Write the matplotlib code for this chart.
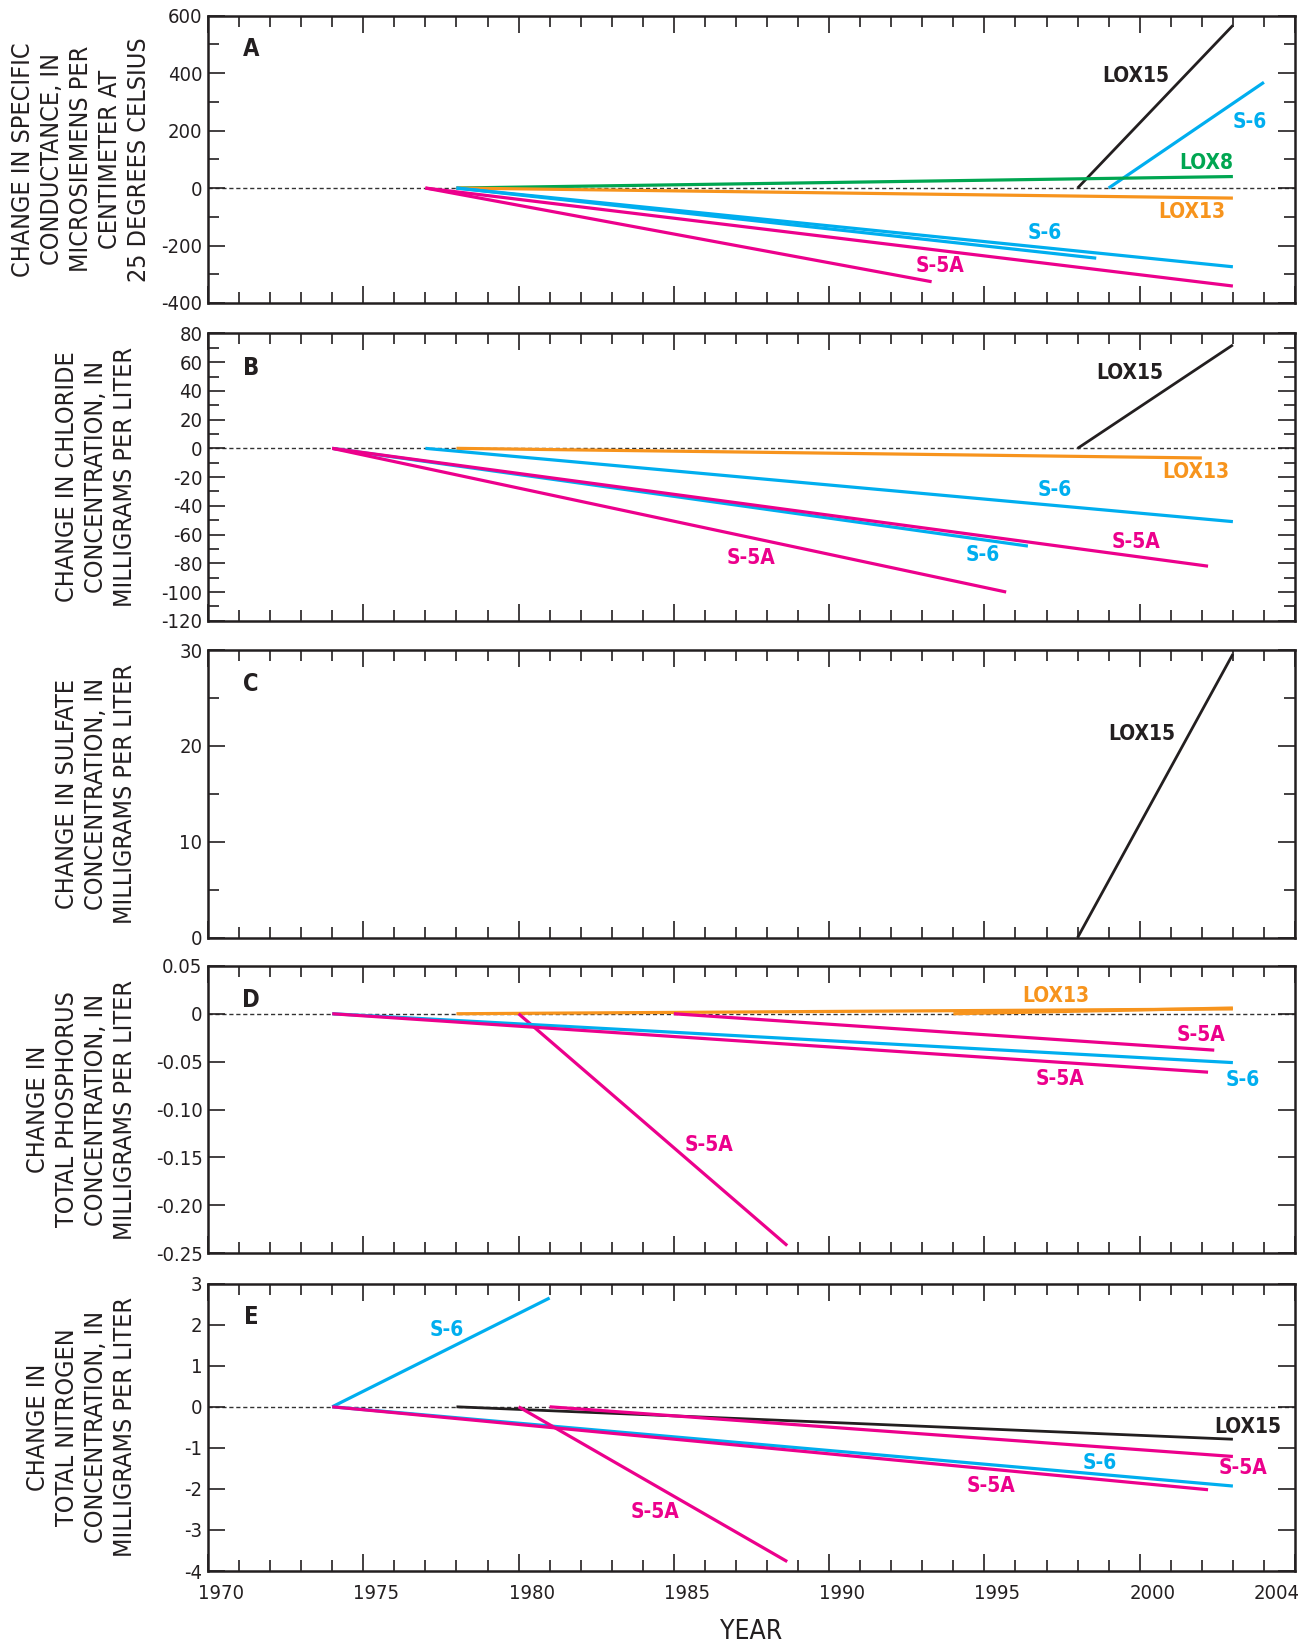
import matplotlib
matplotlib.use('Agg')
import matplotlib.pyplot as plt
from matplotlib.ticker import MultipleLocator, FixedLocator, FixedFormatter, FuncFormatter
from matplotlib.transforms import ScaledTranslation

plt.rcParams['font.family'] = ['DejaVu Sans']
plt.rcParams['font.stretch'] = 'condensed'

# colour of each well
well_colors = {'LOX15': '#231f20', 'S-6': '#00aeef', 'LOX8': '#00a651',
               'LOX13': '#f7941d', 'S-5A': '#ec008c'}

# each trend line goes from (start, 0) to (end, change)
# A - specific conductance
a_well = ['LOX15', 'S-6', 'LOX8', 'LOX13', 'S-6', 'S-6', 'S-5A', 'S-5A']
a_start = [1998.0, 1999.0, 1978.0, 1978.0, 1978.0, 1978.0, 1977.0, 1977.0]
a_end = [2003.0, 2004.0, 2003.0, 2003.0, 1998.6, 2003.0, 1993.3, 2003.0]
a_change = [566, 368, 40, -35, -244, -274, -326, -341]

# B - chloride
b_well = ['LOX15', 'LOX13', 'S-6', 'S-6', 'S-5A', 'S-5A']
b_start = [1998.0, 1978.0, 1977.0, 1974.0, 1974.0, 1974.0]
b_end = [2003.0, 2002.0, 2003.0, 1996.4, 2002.2, 1995.7]
b_change = [72, -6.7, -51, -68, -82, -100]

# C - sulfate
c_well = ['LOX15']
c_start = [1998.0]
c_end = [2003.0]
c_change = [29.6]

# D - total phosphorus
d_well = ['LOX13', 'LOX13', 'S-5A', 'S-5A', 'S-6', 'S-5A']
d_start = [1978.0, 1994.0, 1980.0, 1985.0, 1974.0, 1974.0]
d_end = [2003.0, 2003.0, 1988.65, 2002.4, 2003.0, 2002.2]
d_change = [0.005, 0.006, -0.242, -0.038, -0.051, -0.061]

# E - total nitrogen
e_well = ['S-6', 'LOX15', 'S-5A', 'S-6', 'S-5A', 'S-5A']
e_start = [1974.0, 1978.0, 1981.0, 1974.0, 1974.0, 1980.0]
e_end = [1981.0, 2003.0, 2003.0, 2003.0, 2002.2, 1988.65]
e_change = [2.65, -0.79, -1.21, -1.93, -2.02, -3.77]

year_ticks = [1970, 1975, 1980, 1985, 1990, 1995, 2000, 2005]
year_labels = ['1970', '1975', '1980', '1985', '1990', '1995', '2000', '']

panels = [
    dict(letter='A', well=a_well, start=a_start, end=a_end, change=a_change,
         ylim=(-400, 600), major=200, minor=100, fmt='{:.0f}',
         ylabel='CHANGE IN SPECIFIC\nCONDUCTANCE, IN\nMICROSIEMENS PER\nCENTIMETER AT\n25 DEGREES CELSIUS',
         labx=-0.052, zero=True,
         texts=[('LOX15', 1999.87, 389), ('S-6', 2003.55, 229), ('LOX8', 2002.13, 87),
                ('LOX13', 2001.69, -84), ('S-6', 1996.93, -156), ('S-5A', 1993.56, -273)],
         letter_y=484),
    dict(letter='B', well=b_well, start=b_start, end=b_end, change=b_change,
         ylim=(-120, 80), major=20, minor=10, fmt='{:.0f}',
         ylabel='CHANGE IN CHLORIDE\nCONCENTRATION, IN\nMILLIGRAMS PER LITER',
         labx=-0.065, zero=True,
         texts=[('LOX15', 1999.67, 52.6), ('LOX13', 2001.79, -16.8), ('S-6', 1997.27, -29.2),
                ('S-5A', 1999.87, -65), ('S-6', 1994.94, -74.5), ('S-5A', 1987.48, -76.6)],
         letter_y=56),
    dict(letter='C', well=c_well, start=c_start, end=c_end, change=c_change,
         ylim=(0, 30), major=10, minor=5, fmt='{:.0f}',
         ylabel='CHANGE IN SULFATE\nCONCENTRATION, IN\nMILLIGRAMS PER LITER',
         labx=-0.065, zero=False,
         texts=[('LOX15', 2000.07, 21.2)],
         letter_y=26.5),
    dict(letter='D', well=d_well, start=d_start, end=d_end, change=d_change,
         ylim=(-0.25, 0.05), major=0.05, minor=None, fmt='{:.2f}',
         ylabel='CHANGE IN\nTOTAL PHOSPHORUS\nCONCENTRATION, IN\nMILLIGRAMS PER LITER',
         labx=-0.065, zero=True,
         texts=[('LOX13', 1997.3, 0.0186), ('S-5A', 2001.96, -0.0219), ('S-6', 2003.31, -0.069),
                ('S-5A', 1997.44, -0.068), ('S-5A', 1986.13, -0.137)],
         letter_y=0.0143),
    dict(letter='E', well=e_well, start=e_start, end=e_end, change=e_change,
         ylim=(-4, 3), major=1, minor=None, fmt='{:.0f}',
         ylabel='CHANGE IN\nTOTAL NITROGEN\nCONCENTRATION, IN\nMILLIGRAMS PER LITER',
         labx=-0.065, zero=True,
         texts=[('S-6', 1977.69, 1.87), ('LOX15', 2003.48, -0.49), ('S-5A', 2003.34, -1.49),
                ('S-6', 1998.72, -1.36), ('S-5A', 1995.21, -1.92), ('S-5A', 1984.38, -2.56)],
         letter_y=2.18),
]

fig = plt.figure(figsize=(13.13, 16.44), dpi=100)
bottoms = [0.8157, 0.6224, 0.4297, 0.2377, 0.0444]
ink = '#231f20'

for i, p in enumerate(panels):
    ax = fig.add_axes([0.1584, bottoms[i], 0.8279, 0.1748])
    ax.set_xlim(1970, 2005)
    ax.set_ylim(*p['ylim'])

    if p['zero']:
        ax.axhline(0, color='#333333', lw=1.0, ls=(0, (3, 2)), zorder=1)

    for w, s, e, c in zip(p['well'], p['start'], p['end'], p['change']):
        lw = 2.0 if w == 'LOX15' else 2.3
        ax.plot([s, e], [0, c], color=well_colors[w], lw=lw, solid_capstyle='butt', zorder=3)

    for name, x, y in p['texts']:
        ax.text(x, y, name, color=well_colors[name], fontsize=15, fontweight='bold',
                ha='center', va='center')
    ax.text(1971.38, p['letter_y'], p['letter'], color=ink, fontsize=17,
            fontweight='bold', ha='center', va='center')

    # axes styling
    for sp in ax.spines.values():
        sp.set_linewidth(1.8)
        sp.set_color(ink)
    ax.xaxis.set_major_locator(FixedLocator(year_ticks))
    ax.xaxis.set_minor_locator(MultipleLocator(1))
    ax.yaxis.set_major_locator(MultipleLocator(p['major']))
    if p['minor']:
        ax.yaxis.set_minor_locator(MultipleLocator(p['minor']))
    else:
        ax.yaxis.set_minor_locator(FixedLocator([]))
    ax.yaxis.set_major_formatter(FuncFormatter(lambda v, pos, f=p['fmt']: f.format(v) if abs(v) > 1e-9 else '0'))
    ax.tick_params(which='both', direction='in', top=True, right=True, color=ink,
                   width=1.2, labelsize=14.5, labelcolor=ink)
    ax.tick_params(which='major', length=12)
    ax.tick_params(which='minor', length=8)
    ax.tick_params(axis='y', pad=4)

    ax.set_ylabel(p['ylabel'], fontsize=18, color=ink, linespacing=1.27, multialignment='center')
    ax.yaxis.set_label_coords(p['labx'], 0.5)

    if i == len(panels) - 1:
        ax.xaxis.set_major_formatter(FixedFormatter(year_labels))
        ax.xaxis.set_minor_formatter(FuncFormatter(lambda v, pos: '2004' if round(v) == 2004 else ''))
        ax.tick_params(axis='x', which='both', pad=9)
        ax.set_xlabel('YEAR', fontsize=19, color=ink, labelpad=12)
        shift = ScaledTranslation(0.13, 0, fig.dpi_scale_trans)
        for lab in ax.get_xticklabels(which='both'):
            lab.set_transform(lab.get_transform() + shift)
    else:
        ax.tick_params(axis='x', which='both', labelbottom=False)

fig.savefig('out.png', dpi=100)
